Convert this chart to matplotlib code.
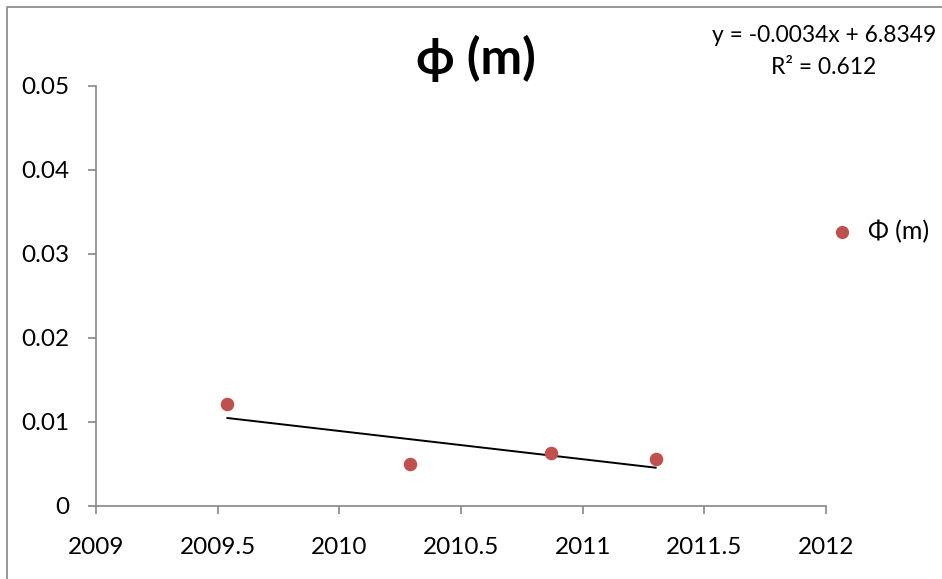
import numpy as np
import matplotlib.pyplot as plt
from matplotlib.lines import Line2D

plt.rcParams['font.family'] = ['Lato', 'DejaVu Sans']

# data
years = [2009.54, 2010.29, 2010.87, 2011.30]
phi = [0.0121, 0.0050, 0.0063, 0.0056]
xticks = [2009, 2009.5, 2010, 2010.5, 2011, 2011.5, 2012]
xlabels = ['2009', '2009.5', '2010', '2010.5', '2011', '2011.5', '2012']
yticks = [0, 0.01, 0.02, 0.03, 0.04, 0.05]
ylabels = ['0', '0.01', '0.02', '0.03', '0.04', '0.05']

grey = '#868686'
red = '#C0504D'

fig = plt.figure(figsize=(9.42, 5.79), dpi=100)
ax = fig.add_axes([96/942, 1 - 506/579, (826-96)/942, (506-86)/579])

ax.scatter(years, phi, s=95, color=red, zorder=3, linewidths=0)

# linear trendline
k, b = np.polyfit(years, phi, 1)
xs = np.array([min(years), max(years)])
ax.plot(xs, k*xs + b, color='black', lw=1.4, zorder=2)

ax.set_xlim(2009, 2012)
ax.set_ylim(0, 0.05)
ax.set_xticks(xticks)
ax.set_xticklabels(xlabels)
ax.set_yticks(yticks)
ax.set_yticklabels(ylabels)
ax.tick_params(axis='both', colors=grey, labelcolor='black', labelsize=17.5,
               length=6, width=1.2, direction='out')
ax.tick_params(axis='x', pad=16)
ax.tick_params(axis='y', pad=13)
for s in ['top', 'right']:
    ax.spines[s].set_visible(False)
for s in ['left', 'bottom']:
    ax.spines[s].set_color(grey)
    ax.spines[s].set_linewidth(1.2)

fig.text(476/942, 1 - 58/579, 'ϕ (m)', ha='center', va='center',
         fontsize=36, fontweight='bold')
fig.text(824/942, 1 - 35/579, 'y = -0.0034x + 6.8349', ha='center',
         va='center', fontsize=16.4)
fig.text(824/942, 1 - 67/579, 'R² = 0.612', ha='center', va='center',
         fontsize=16.4)

# legend
fig.lines.append(Line2D([842/942], [1 - 232/579], marker='o', color=red,
                        markersize=9.5, markeredgewidth=0,
                        transform=fig.transFigure))
fig.text(868/942, 1 - 232/579, 'Φ (m)', ha='left', va='center', fontsize=18)

# outer chart border (clipped at right/bottom)
fig.lines.append(Line2D([7/942, 7/942, 1], [0, 1 - 7/579, 1 - 7/579],
                        color=grey, lw=1.2, transform=fig.transFigure))

fig.savefig('out.png', dpi=100)
